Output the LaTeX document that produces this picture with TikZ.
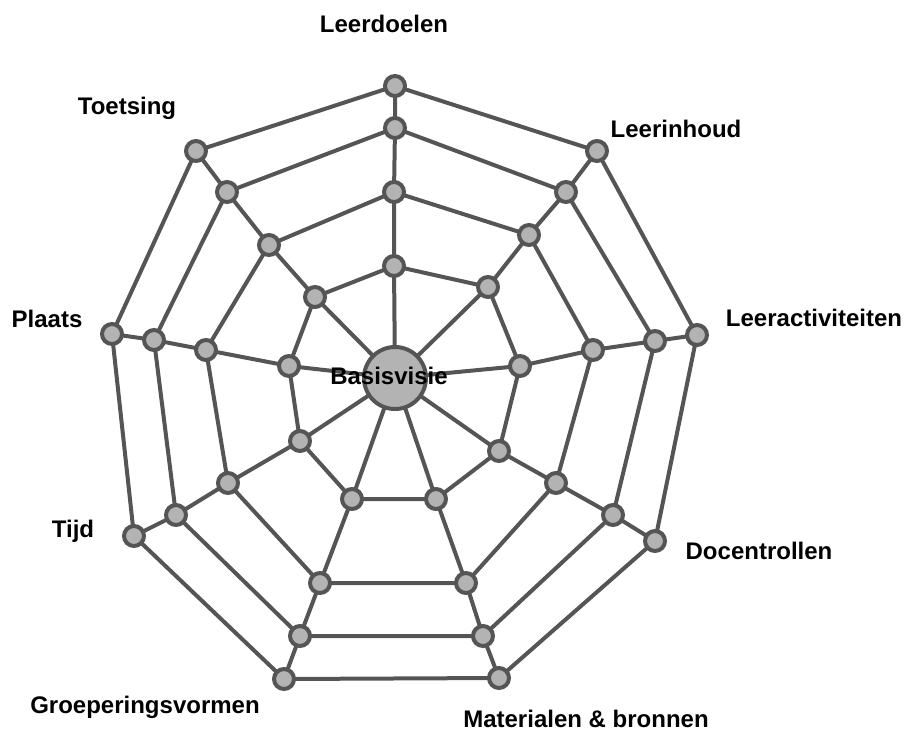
\documentclass[tikz,border=0pt]{standalone}
\usepackage{fontspec}
\setmainfont{Liberation Sans}
\definecolor{webline}{HTML}{555555}
\definecolor{webfill}{HTML}{B3B3B3}
\begin{document}
\begin{tikzpicture}[x=1pt,y=-1pt,
  webnode/.style={circle,draw=webline,fill=webfill,line width=4pt,minimum size=20pt,inner sep=0pt},
  hubnode/.style={circle,draw=webline,fill=webfill,line width=4pt,minimum size=62pt,inner sep=0pt},
  wire/.style={draw=webline,line width=4pt},
  lbl/.style={font=\fontsize{24}{28}\selectfont\bfseries,anchor=base,inner sep=0pt}]
\useasboundingbox (0,0) rectangle (918,731);
% coordinates
\coordinate (C) at (395,378);
\coordinate (a1) at (395,86);  \coordinate (a2) at (395,128); \coordinate (a3) at (394,192); \coordinate (a4) at (394,266);
\coordinate (b1) at (597,151); \coordinate (b2) at (566,192); \coordinate (b3) at (529,235); \coordinate (b4) at (488,287);
\coordinate (c1) at (697,335); \coordinate (c2) at (655,341); \coordinate (c3) at (593,350); \coordinate (c4) at (520,366);
\coordinate (d1) at (655,541); \coordinate (d2) at (613,515); \coordinate (d3) at (556,483); \coordinate (d4) at (499,451);
\coordinate (e1) at (499,678); \coordinate (e2) at (483,636); \coordinate (e3) at (466,583); \coordinate (e4) at (436,499);
\coordinate (f1) at (284,679); \coordinate (f2) at (300,636); \coordinate (f3) at (320,583); \coordinate (f4) at (352,499);
\coordinate (g1) at (134,536); \coordinate (g2) at (176,515); \coordinate (g3) at (228,483); \coordinate (g4) at (300,441);
\coordinate (h1) at (112,334); \coordinate (h2) at (154,340); \coordinate (h3) at (206,350); \coordinate (h4) at (289,366);
\coordinate (i1) at (196,151); \coordinate (i2) at (227,192); \coordinate (i3) at (269,245); \coordinate (i4) at (315,297);
% spokes
\foreach \s in {a,b,c,d,e,f,g,h,i}{
  \draw[wire] (C) -- (\s4) -- (\s3) -- (\s2) -- (\s1);
}
% rings
\foreach \r in {1,2,3,4}{
  \draw[wire] (a\r) -- (b\r) -- (c\r) -- (d\r) -- (e\r) -- (f\r) -- (g\r) -- (h\r) -- (i\r) -- cycle;
}
% nodes
\node[hubnode] (hub) at (C) {};
\foreach \s in {a,b,c,d,e,f,g,h,i}{
  \foreach \r in {1,2,3,4}{
    \node[webnode] (n\s\r) at (\s\r) {};
  }
}
% labels
\node[lbl] (lhub) at (389,384) {Basisvisie};
\node[lbl] (la) at (384,32) {Leerdoelen};
\node[lbl] (lb) at (676,137) {Leerinhoud};
\node[lbl] (lc) at (814,326) {Leeractiviteiten};
\node[lbl] (ld) at (759,559) {Docentrollen};
\node[lbl] (le) at (586,727) {Materialen \& bronnen};
\node[lbl] (lf) at (145,713) {Groeperingsvormen};
\node[lbl] (lg) at (73,537) {Tijd};
\node[lbl] (lh) at (47,327) {Plaats};
\node[lbl] (li) at (127,114) {Toetsing};
\end{tikzpicture}
\end{document}
